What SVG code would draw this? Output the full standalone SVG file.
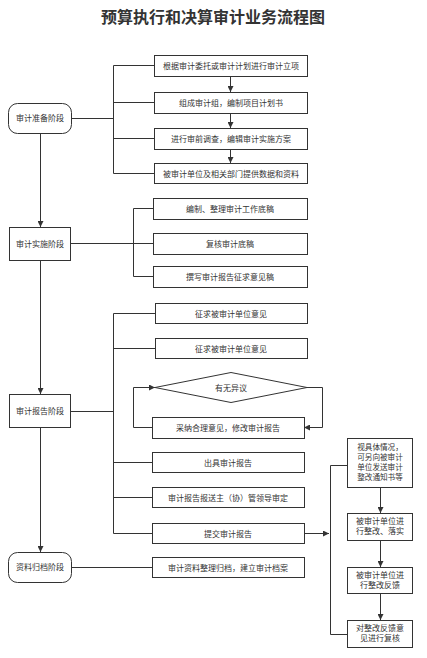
<svg xmlns="http://www.w3.org/2000/svg" width="427" height="658" viewBox="0 0 427 658">
<style>
.t{font-family:"Noto Sans CJK SC","Noto Sans CJK JP",sans-serif;font-size:8px;fill:#333;text-anchor:middle}
.s{font-size:7.6px}
.title{font-family:"Noto Sans CJK SC","Noto Sans CJK JP",sans-serif;font-size:16px;font-weight:bold;fill:#333;text-anchor:middle}
.b{fill:#fff;stroke:#333;stroke-width:1}
.c{fill:none;stroke:#333;stroke-width:1}
.a{fill:none;stroke:#333;stroke-width:1;marker-end:url(#ah)}
</style>
<defs>
<marker id="ah" markerWidth="6" markerHeight="6" refX="6" refY="3" orient="auto" markerUnits="userSpaceOnUse">
<path d="M0,0 L6,3 L0,6 z" fill="#333"/>
</marker>
</defs>
<rect width="427" height="658" fill="#fff"/>
<text class="title" x="213" y="23">预算执行和决算审计业务流程图</text>

<g id="connectors">
<path class="a" d="M40.5,133 V227"/>
<path class="a" d="M40.5,260 V394"/>
<path class="a" d="M40.5,427 V552"/>
<path class="c" d="M72,118.5 H113.5"/>
<path class="c" d="M113.5,65.5 V173.5"/>
<path class="c" d="M113.5,65.5 H154 M113.5,102.5 H154 M113.5,138.5 H154 M113.5,173.5 H154"/>
<path class="a" d="M230.5,76 V92"/>
<path class="a" d="M230.5,113 V128"/>
<path class="a" d="M230.5,149 V163"/>
<path class="c" d="M71,243.5 H133.5"/>
<path class="c" d="M133.5,208.5 V276.5"/>
<path class="c" d="M133.5,208.5 H153 M133.5,243.5 H153 M133.5,276.5 H153"/>
<path class="c" d="M71,411.5 H113.5"/>
<path class="c" d="M113.5,313.5 V533.5"/>
<path class="c" d="M113.5,313.5 H155 M113.5,348.5 H155 M113.5,462.5 H152 M113.5,497.5 H152 M113.5,533.5 H152"/>
<path class="a" d="M307,387.5 H322.5 V427.5 H304"/>
<path class="a" d="M152,427.5 H133.5 V387.5 H155"/>
<path class="a" d="M304,533.5 H329"/>
<path class="c" d="M330.5,465.5 V634.5 H347 M330.5,465.5 H347"/>
<path class="a" d="M380.5,487 V513"/>
<path class="a" d="M380.5,540 V567"/>
<path class="a" d="M380.5,593 V620"/>
<path class="c" d="M72,567.5 H152"/>
</g>

<g id="n-prep"><rect class="b" x="8.5" y="103.5" width="63" height="30" rx="9"/><text class="t" x="40" y="121">审计准备阶段</text></g>
<g id="n-impl"><rect class="b" x="9.5" y="227.5" width="61" height="33"/><text class="t" x="40" y="246.5">审计实施阶段</text></g>
<g id="n-report"><rect class="b" x="9.5" y="394.5" width="61" height="33"/><text class="t" x="40" y="413.5">审计报告阶段</text></g>
<g id="n-archive"><rect class="b" x="8.5" y="552.5" width="63" height="30" rx="9"/><text class="t" x="40" y="570">资料归档阶段</text></g>

<g id="s1"><rect class="b" x="154.5" y="55.5" width="153" height="21"/><text class="t" x="231" y="68.5">根据审计委托或审计计划进行审计立项</text></g>
<g id="s2"><rect class="b" x="154.5" y="92.5" width="153" height="21"/><text class="t" x="231" y="105.5">组成审计组，编制项目计划书</text></g>
<g id="s3"><rect class="b" x="154.5" y="128.5" width="153" height="21"/><text class="t" x="231" y="141.5">进行审前调查，编辑审计实施方案</text></g>
<g id="s4"><rect class="b" x="154.5" y="163.5" width="153" height="20"/><text class="t" x="231" y="176.5">被审计单位及相关部门提供数据和资料</text></g>

<g id="s5"><rect class="b" x="153.5" y="198.5" width="154" height="21"/><text class="t" x="230" y="211.5">编制、整理审计工作底稿</text></g>
<g id="s6"><rect class="b" x="153.5" y="233.5" width="154" height="21"/><text class="t" x="230" y="246.5">复核审计底稿</text></g>
<g id="s7"><rect class="b" x="153.5" y="266.5" width="154" height="21"/><text class="t" x="230" y="279.5">撰写审计报告征求意见稿</text></g>

<g id="s8"><rect class="b" x="155.5" y="303.5" width="152" height="20"/><text class="t" x="231" y="316.5">征求被审计单位意见</text></g>
<g id="s9"><rect class="b" x="155.5" y="338.5" width="152" height="20"/><text class="t" x="231" y="351.5">征求被审计单位意见</text></g>
<g id="d1"><polygon class="b" points="155,387.5 231,372.5 307,387.5 231,402.5"/><text class="t" x="231" y="390.5">有无异议</text></g>
<g id="s10"><rect class="b" x="152.5" y="417.5" width="152" height="21"/><text class="t" x="228" y="430.5">采纳合理意见，修改审计报告</text></g>
<g id="s11"><rect class="b" x="152.5" y="452.5" width="152" height="20"/><text class="t" x="228" y="465.5">出具审计报告</text></g>
<g id="s12"><rect class="b" x="152.5" y="487.5" width="152" height="20"/><text class="t" x="228" y="500.5">审计报告报送主（协）管领导审定</text></g>
<g id="s13"><rect class="b" x="152.5" y="523.5" width="152" height="20"/><text class="t" x="228" y="536.5">提交审计报告</text></g>
<g id="s14"><rect class="b" x="152.5" y="557.5" width="152" height="20"/><text class="t" x="228" y="570.5">审计资料整理归档，建立审计档案</text></g>

<g id="r1"><rect class="b" x="347.5" y="438.5" width="65" height="49"/>
<text class="t s" x="380" y="450">视具体情况，</text><text class="t s" x="380" y="460">可另向被审计</text><text class="t s" x="380" y="470">单位发送审计</text><text class="t s" x="380" y="480">整改通知书等</text></g>
<g id="r2"><rect class="b" x="347.5" y="513.5" width="65" height="27"/><text class="t" x="380" y="523.5">被审计单位进</text><text class="t" x="380" y="533.5">行整改、落实</text></g>
<g id="r3"><rect class="b" x="347.5" y="567.5" width="65" height="26"/><text class="t" x="380" y="577.5">被审计单位进</text><text class="t" x="380" y="587.5">行整改反馈</text></g>
<g id="r4"><rect class="b" x="347.5" y="620.5" width="65" height="27"/><text class="t" x="380" y="631">对整改反馈意</text><text class="t" x="380" y="641">见进行复核</text></g>
</svg>
